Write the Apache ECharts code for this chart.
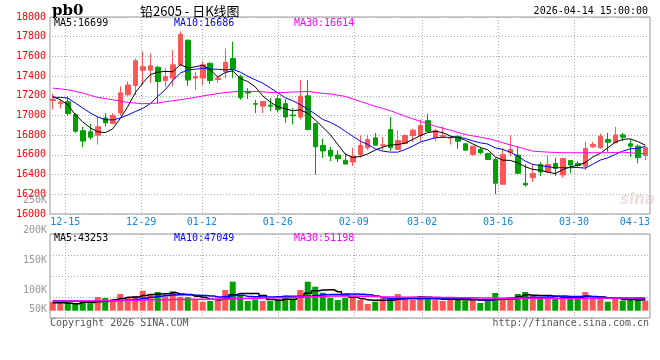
<!DOCTYPE html>
<html><head><meta charset="utf-8">
<script src="https://cdn.jsdelivr.net/npm/echarts@6/dist/echarts.min.js"></script>
<style>html,body{margin:0;padding:0;background:#fff}#c{width:660px;height:360px}</style>
</head><body><div id="c"></div>
<script>
const dates = ['12-11','12-12','12-15','12-16','12-17','12-18','12-19','12-22','12-23','12-24','12-25','12-26','12-29','12-30','12-31','01-05','01-06','01-07','01-08','01-09','01-12','01-13','01-14','01-15','01-16','01-19','01-20','01-21','01-22','01-23','01-26','01-27','01-28','01-29','01-30','02-02','02-03','02-04','02-05','02-06','02-09','02-10','02-11','02-12','02-13','02-24','02-25','02-26','02-27','03-02','03-03','03-04','03-05','03-06','03-09','03-10','03-11','03-12','03-13','03-16','03-17','03-18','03-19','03-20','03-23','03-24','03-25','03-26','03-27','03-30','03-31','04-01','04-02','04-03','04-07','04-08','04-09','04-10','04-13','04-14'];
const opens = [17150,17120,17140,17010,16845,16835,16800,16975,16920,17025,17210,17305,17460,17460,17490,17355,17380,17515,17765,17380,17380,17530,17365,17445,17580,17395,17245,17120,17095,17105,17170,17120,17005,16985,17200,16918,16695,16648,16598,16545,16527,16605,16672,16773,16695,16857,16655,16716,16797,16797,16948,16773,16788,16770,16790,16712,16605,16655,16615,16554,16302,16622,16598,16312,16369,16503,16426,16513,16396,16544,16513,16487,16682,16672,16756,16723,16803,16712,16689,16595];
const closes = [17165,17135,17020,16840,16740,16780,16885,16925,17000,17230,17310,17555,17495,17505,17345,17395,17515,17825,17360,17395,17515,17355,17380,17540,17470,17180,17228,17115,17143,17095,17060,16985,16998,17195,16857,16682,16640,16588,16561,16507,16588,16696,16756,16699,16702,16672,16746,16797,16851,16898,16840,16847,16795,16777,16739,16648,16689,16622,16554,16312,16605,16655,16413,16295,16410,16426,16503,16463,16564,16497,16493,16665,16706,16790,16729,16803,16780,16689,16571,16672];
const lows = [17060,17070,17000,16825,16680,16755,16705,16885,16910,17000,17200,17210,17310,17330,17120,17295,17295,17505,17300,17260,17310,17320,17330,17380,17380,17160,17167,17025,17025,17043,17030,16925,16910,16960,16850,16400,16570,16537,16527,16505,16487,16571,16649,16689,16649,16638,16649,16706,16729,16739,16835,16739,16773,16706,16662,16645,16588,16605,16547,16201,16298,16588,16403,16278,16325,16386,16420,16386,16369,16413,16480,16446,16672,16665,16632,16720,16739,16581,16514,16547];
const highs = [17220,17160,17195,17020,16885,16915,16985,17025,17025,17295,17345,17580,17650,17630,17505,17480,17665,17855,17770,17445,17550,17540,17405,17680,17750,17415,17278,17160,17145,17177,17210,17165,17075,17360,17360,16925,16765,16682,16645,16615,16672,16797,16797,16824,16783,16985,16847,16807,16867,16958,17019,16864,16891,16790,16792,16722,16692,16682,16622,16571,16672,16797,16689,16507,16503,16527,16594,16571,16571,16547,16537,16733,16733,16817,16824,16884,16824,16756,16706,16689];
const ma5 = [17194,17160,17110,17009,16935,16875,16835,16826,16865,16970,17090,17230,17330,17415,17440,17448,17445,17515,17484,17494,17510,17465,17390,17436,17454,17375,17345,17290,17200,17135,17090,17068,17048,17058,17022,16955,16882,16805,16706,16608,16574,16584,16610,16649,16680,16700,16705,16720,16756,16795,16826,16840,16826,16792,16775,16750,16712,16675,16652,16580,16547,16544,16520,16480,16453,16445,16425,16410,16450,16480,16493,16522,16578,16615,16672,16728,16758,16763,16735,16699];
const ma10 = [17184,17184,17177,17127,17076,17026,16985,16958,16955,16975,17005,17040,17072,17120,17194,17262,17356,17430,17463,17470,17478,17470,17470,17463,17468,17440,17398,17362,17329,17280,17230,17180,17150,17110,17066,17015,16960,16931,16891,16840,16790,16739,16706,16662,16638,16628,16628,16655,16689,16730,16752,16775,16778,16778,16780,16768,16742,16723,16710,16672,16655,16628,16588,16537,16503,16493,16480,16470,16470,16470,16472,16466,16505,16547,16571,16605,16638,16662,16665,16686];
const ma30 = [17278,17270,17261,17245,17228,17205,17184,17172,17160,17146,17133,17126,17120,17122,17127,17140,17150,17160,17172,17184,17198,17211,17222,17234,17240,17244,17244,17244,17240,17234,17234,17234,17238,17241,17244,17234,17225,17218,17206,17194,17168,17143,17118,17093,17071,17049,17020,16992,16966,16941,16916,16891,16871,16851,16829,16807,16793,16780,16766,16745,16723,16702,16682,16660,16638,16633,16628,16625,16622,16622,16622,16622,16622,16622,16622,16625,16628,16622,16615,16614];
const volumes = [35500,35500,33600,26500,35500,29200,54100,50200,42300,66000,52900,58100,79000,66000,73900,56900,77800,55300,52900,42300,35500,38300,45000,81800,114600,62000,38300,45000,38300,38300,45000,59300,45000,81800,114600,94800,71100,51400,42300,51400,51400,42300,26500,35500,49000,51400,66000,52900,42300,58100,45000,42300,38300,42300,52900,39500,42300,30400,42300,69900,51400,52900,66000,73900,59300,46200,52900,52900,55300,49000,49000,73900,49000,49000,35500,46200,39500,49000,42300,39500];
const volMa5 = [31600,31600,29600,27600,33300,32100,35800,39100,42300,48300,53100,53900,59600,64400,66000,66800,70700,66000,63400,57000,52800,44900,42800,48600,63000,68300,68300,68300,59600,44400,41000,45200,45200,53900,69100,79100,81400,82700,74800,62200,53500,47700,42700,41400,40900,40900,45700,51000,52300,54100,52900,48100,45200,45200,44200,43100,43100,41500,41500,44900,47200,49400,56500,62800,60700,59600,59600,57000,53300,51300,51800,56000,55200,54000,51300,50700,43800,43800,42500,43253];
const volMa10 = [38300,38000,37500,37000,37000,37500,38500,39500,40300,40800,42600,44800,49400,53300,57200,59900,62300,62800,63900,61500,59800,57800,54400,56000,60000,60600,56600,55600,54100,53700,54700,56800,56800,56800,56800,60000,63300,64000,64300,65600,66300,64600,62700,58100,51500,47200,46700,46800,46800,47500,46900,46900,48100,48700,49100,48000,45600,43300,43300,44500,45100,46200,49000,52100,52800,53400,54500,56800,58100,56000,55700,57800,56100,53600,51300,51300,49900,49500,48200,47049];
const volMa30 = [38300,38400,38500,38600,38700,38700,38900,39300,39700,40200,41000,41600,42200,42800,43300,43600,44000,44300,44600,44800,45000,45500,46000,46600,47400,47800,48300,49000,49800,50500,51000,52000,52900,53800,54800,55500,56800,58000,58300,58500,58400,57600,56800,55700,54600,53700,53600,53400,53300,53300,53400,52900,52400,51900,51500,51300,50800,50200,49800,49600,49500,49300,49200,49100,49000,48900,48800,48700,48600,48600,48700,48900,49200,49500,49700,50000,50300,50600,50900,51198];
const priceMin = 16000, priceMax = 18000, priceStep = 200;
const volTickLabels = ['50K','100K','150K','200K','250K'];
const volTickStep = 50000;
const dateGridIndex = [2,12,20,30,40,49,59,69];
const dateLabelIndex = [2,12,20,30,40,49,59,69,78];
const titleText = '铅2605 - 日K线图';
const symbolText = 'pb0';
const timeText = '2026-04-14 15:00:00';

const UP = '#ff5656', DOWN = '#00a000';
const MONO = '"DejaVu Sans Mono", monospace';
const GRIDC = '#aaaaaa';
const dotted = {color: GRIDC, type: [1, 2], width: 1};
const last = a => a[a.length - 1];

const chart = echarts.init(document.getElementById('c'), null, {renderer: 'canvas'});
const hidX = (g) => ({gridIndex: g, type: 'category', data: dates, show: false, boundaryGap: true});
const gridX = (g, labels) => ({
  gridIndex: g, type: 'category', data: dates, boundaryGap: false, position: 'bottom',
  axisLine: {show: false}, axisTick: {show: false},
  splitLine: {show: true, interval: (i) => dateGridIndex.includes(i), lineStyle: dotted},
  axisLabel: labels ? {
    show: true, interval: (i) => dateLabelIndex.includes(i), color: '#1a86d6', fontFamily: MONO, fontSize: 10, margin: 3,
    formatter: (v, i) => i === dateLabelIndex[dateLabelIndex.length - 1] ? '{r|' + v + '}' : v,
    rich: {r: {padding: [0, 15, 0, 0], color: '#1a86d6', fontFamily: MONO, fontSize: 10}}
  } : {show: false}
});

chart.setOption({
  animation: false,
  backgroundColor: '#fff',
  grid: [
    {left: 49, top: 17, width: 600, height: 197, outerBoundsMode: 'none'},
    {left: 50, top: 17, width: 600, height: 197, show: true, borderColor: '#999', borderWidth: 1, backgroundColor: 'transparent', outerBoundsMode: 'none'},
    {left: 49, top: 234, width: 600, height: 84, outerBoundsMode: 'none'},
    {left: 50, top: 234, width: 600, height: 84, show: true, borderColor: '#999', borderWidth: 1, backgroundColor: 'transparent', outerBoundsMode: 'none'},
    {left: 50, top: 200.9, width: 600, height: 149, outerBoundsMode: 'none'}
  ],
  xAxis: [hidX(0), gridX(1, true), hidX(2), gridX(3, false), hidX(4)],
  yAxis: [
    {gridIndex: 0, type: 'value', min: priceMin, max: priceMax, interval: priceStep,
     axisLine: {show: false}, axisTick: {show: false},
     splitLine: {show: true, lineStyle: dotted},
     axisLabel: {color: '#ff0000', fontFamily: MONO, fontSize: 10, margin: 3, formatter: (v) => String(v)}},
    {gridIndex: 1, type: 'value', show: false},
    {gridIndex: 2, type: 'value', min: -28800, max: 303000, show: false},
    {gridIndex: 3, type: 'value', min: 0, max: 4, interval: 1,
     axisLine: {show: false}, axisTick: {show: false}, axisLabel: {show: false},
     splitLine: {show: true, lineStyle: dotted}},
    {gridIndex: 4, type: 'value', min: 0, max: volTickStep * volTickLabels.length, interval: volTickStep,
     axisLine: {show: false}, axisTick: {show: false}, splitLine: {show: false},
     axisLabel: {color: '#999', fontFamily: MONO, fontSize: 10, margin: 3,
       formatter: (v) => {
         if (v === 0) return '';
         const t = volTickLabels[Math.round(v / volTickStep) - 1];
         return v === volTickStep ? '{up|' + t + '}' : t;
       },
       rich: {up: {padding: [0, 0, 21, 0], color: '#999', fontFamily: MONO, fontSize: 10}}}}
  ],
  series: [
    {type: 'candlestick', xAxisIndex: 0, yAxisIndex: 0, barWidth: 5,
     data: dates.map((d, i) => [opens[i], closes[i], lows[i], highs[i]]),
     itemStyle: {color: UP, color0: DOWN, borderColor: UP, borderColor0: DOWN, borderWidth: 1}},
    {type: 'line', xAxisIndex: 0, yAxisIndex: 0, data: ma5, symbol: 'none', lineStyle: {color: '#000', width: 1}, z: 4},
    {type: 'line', xAxisIndex: 0, yAxisIndex: 0, data: ma10, symbol: 'none', lineStyle: {color: '#0000ff', width: 1}, z: 4},
    {type: 'line', xAxisIndex: 0, yAxisIndex: 0, data: ma30, symbol: 'none', lineStyle: {color: '#ff00ff', width: 1}, z: 4},
    {type: 'bar', xAxisIndex: 2, yAxisIndex: 2, barWidth: 6,
     data: volumes.map((v, i) => ({value: v, itemStyle: {color: closes[i] >= opens[i] ? UP : DOWN}}))},
    {type: 'line', xAxisIndex: 2, yAxisIndex: 2, data: volMa5, step: 'middle', symbol: 'none', lineStyle: {color: '#000', width: 1.5}, z: 4},
    {type: 'line', xAxisIndex: 2, yAxisIndex: 2, data: volMa10, step: 'middle', symbol: 'none', lineStyle: {color: '#0000ff', width: 1.5}, z: 4},
    {type: 'line', xAxisIndex: 2, yAxisIndex: 2, data: volMa30, step: 'middle', symbol: 'none', lineStyle: {color: '#ff00ff', width: 1.5}, z: 4}
  ],
  graphic: [
    {type: 'text', x: 52, y: 11, style: {text: symbolText, font: 'bold 15px "DejaVu Serif"', fill: '#000', textVerticalAlign: 'middle'}},
    {type: 'text', x: 140, y: 11, style: {text: titleText, font: '13px "Noto Sans CJK SC"', fill: '#000', textVerticalAlign: 'middle'}},
    {type: 'text', x: 648, y: 11.5, style: {text: timeText, font: '10px "DejaVu Sans Mono"', fill: '#000', textAlign: 'right', textVerticalAlign: 'middle'}},
    {type: 'text', x: 54, y: 23.5, z: 10, style: {text: 'MA5:' + last(ma5), font: '10px "DejaVu Sans Mono"', fill: '#000', textVerticalAlign: 'middle'}},
    {type: 'text', x: 174, y: 23.5, z: 10, style: {text: 'MA10:' + last(ma10), font: '10px "DejaVu Sans Mono"', fill: '#0000ff', textVerticalAlign: 'middle'}},
    {type: 'text', x: 294, y: 23.5, z: 10, style: {text: 'MA30:' + last(ma30), font: '10px "DejaVu Sans Mono"', fill: '#ff00ff', textVerticalAlign: 'middle'}},
    {type: 'text', x: 54, y: 238.5, z: 10, style: {text: 'MA5:' + last(volMa5), font: '10px "DejaVu Sans Mono"', fill: '#000', textVerticalAlign: 'middle'}},
    {type: 'text', x: 174, y: 238.5, z: 10, style: {text: 'MA10:' + last(volMa10), font: '10px "DejaVu Sans Mono"', fill: '#0000ff', textVerticalAlign: 'middle'}},
    {type: 'text', x: 294, y: 238.5, z: 10, style: {text: 'MA30:' + last(volMa30), font: '10px "DejaVu Sans Mono"', fill: '#ff00ff', textVerticalAlign: 'middle'}},
    {type: 'text', x: 50, y: 323.5, style: {text: 'Copyright 2026 SINA.COM', font: '10px "DejaVu Sans Mono"', fill: '#555', textVerticalAlign: 'middle'}},
    {type: 'text', x: 649, y: 323.5, style: {text: 'http://finance.sina.com.cn', font: '10px "DejaVu Sans Mono"', fill: '#555', textAlign: 'right', textVerticalAlign: 'middle'}},
    {type: 'text', x: 620, y: 200, z: 1, style: {text: 'sina', font: 'italic bold 15px "DejaVu Sans"', fill: 'rgba(215,160,160,0.35)', textVerticalAlign: 'middle'}}
  ]
});
</script></body></html>
